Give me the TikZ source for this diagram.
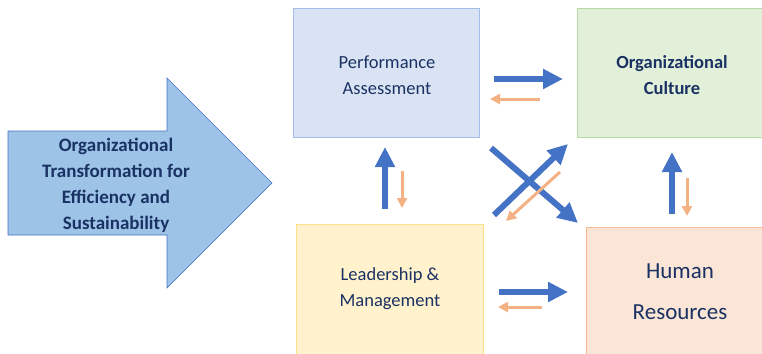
\documentclass[tikz,border=0pt]{standalone}
\usepackage{fontspec}
\setmainfont{Carlito}
\usetikzlibrary{arrows.meta}
\definecolor{navy}{HTML}{1A3263}
\definecolor{bigfill}{HTML}{9DC3E6}
\definecolor{bigdraw}{HTML}{4472C4}
\definecolor{perffill}{HTML}{DAE3F3}
\definecolor{perfdraw}{HTML}{A4BCE8}
\definecolor{culfill}{HTML}{E2F0D9}
\definecolor{culdraw}{HTML}{B7DBA0}
\definecolor{leadfill}{HTML}{FFF2CC}
\definecolor{leaddraw}{HTML}{FFE08A}
\definecolor{hrfill}{HTML}{FBE5D6}
\definecolor{hrdraw}{HTML}{F4B98F}
\definecolor{bluearr}{HTML}{4472C4}
\definecolor{orangearr}{HTML}{F4B183}
\begin{document}
\begin{tikzpicture}[x=1pt,y=-1pt,
  box/.style={draw, line width=1pt, inner sep=0pt},
  lbl/.style={text=navy, align=center, font=\fontsize{18.5}{26}\selectfont},
  bluearrow/.style={draw=bluearr, line width=6pt, -{Triangle[length=20pt,width=19pt]}},
  orangearrow/.style={draw=orangearr, line width=3pt, -{Triangle[length=10pt,width=10pt]}}]
\useasboundingbox (0,0) rectangle (762,353);
% big arrow
\filldraw[fill=bigfill, draw=bigdraw, line width=0.6pt]
  (8,131) -- (167,131) -- (167,78) -- (272,183) -- (167,288) -- (167,235) -- (8,235) -- cycle;
\node[lbl, font=\bfseries\fontsize{19}{26}\selectfont] (main) at (116,185)
  {Organizational \\ Transformation for \\ Efficiency and \\ Sustainability};
% boxes
\node[box, fill=perffill, draw=perfdraw, minimum width=186pt, minimum height=128pt] (perf) at (386,73) {};
\node[lbl] (perft) at (387,75) {Performance \\ Assessment};
\node[box, fill=culfill, draw=culdraw, minimum width=190pt, minimum height=128pt] (cul) at (672,73) {};
\node[lbl, font=\bfseries\fontsize{18.5}{26}\selectfont] (cult) at (672,75) {Organizational \\ Culture};
\node[box, fill=leadfill, draw=leaddraw, minimum width=187pt, minimum height=130pt] (lead) at (389.5,289) {};
\node[lbl] (leadt) at (390,289) {Leadership \& \\ Management};
\node[box, fill=hrfill, draw=hrdraw, minimum width=182pt, minimum height=130pt] (hr) at (677,292) {};
\node[lbl, font=\fontsize{23}{41}\selectfont] (hrt) at (680,292) {Human \\ Resources};
% arrow end points
\coordinate (a1s) at (494,79);  \coordinate (a1e) at (563,79);
\coordinate (b1s) at (540,99);  \coordinate (b1e) at (490,99);
\coordinate (a2s) at (499,292); \coordinate (a2e) at (568,292);
\coordinate (b2s) at (542,307); \coordinate (b2e) at (498,307);
\coordinate (a3s) at (385,209); \coordinate (a3e) at (385,147);
\coordinate (b3s) at (402,171); \coordinate (b3e) at (402,208);
\coordinate (a4s) at (672,214); \coordinate (a4e) at (672,152);
\coordinate (b4s) at (687,178); \coordinate (b4e) at (687,216);
\coordinate (a5s) at (491,148); \coordinate (a5e) at (578,223);
\coordinate (a6s) at (494,215); \coordinate (a6e) at (568,144);
\coordinate (b6s) at (560,172); \coordinate (b6e) at (506,221);
\draw[bluearrow] (a1s) -- (a1e);
\draw[orangearrow] (b1s) -- (b1e);
\draw[bluearrow] (a2s) -- (a2e);
\draw[orangearrow] (b2s) -- (b2e);
\draw[bluearrow] (a3s) -- (a3e);
\draw[orangearrow] (b3s) -- (b3e);
\draw[bluearrow] (a4s) -- (a4e);
\draw[orangearrow] (b4s) -- (b4e);
\draw[bluearrow] (a5s) -- (a5e);
\draw[bluearrow] (a6s) -- (a6e);
\draw[orangearrow] (b6s) -- (b6e);
\end{tikzpicture}
\end{document}
